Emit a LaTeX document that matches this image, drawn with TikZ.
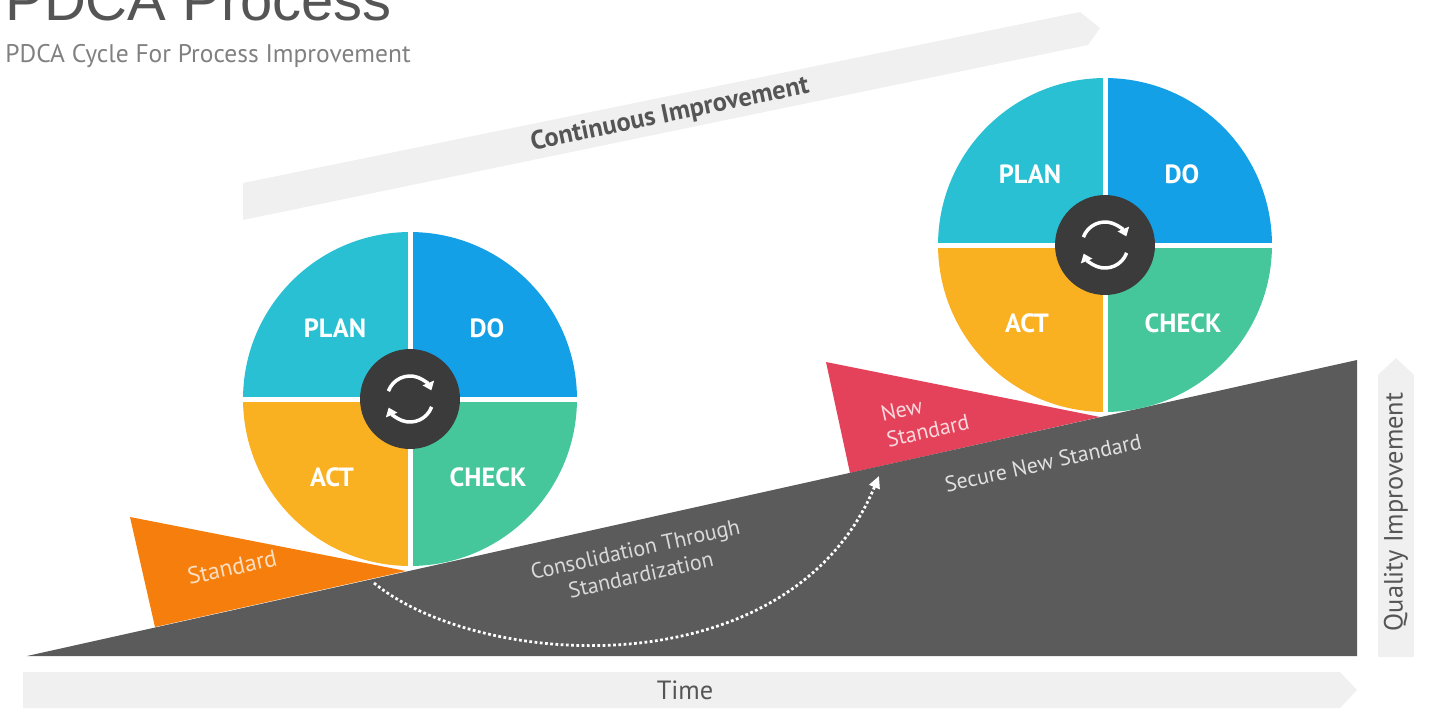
\documentclass[tikz,border=0pt]{standalone}
\usepackage{fontspec}
\setmainfont{PT Sans}
\newfontfamily\titlefont{Liberation Sans}
\usetikzlibrary{positioning,arrows.meta}

\definecolor{plancol}{HTML}{29C0D4}
\definecolor{docol}{HTML}{14A0E6}
\definecolor{actcol}{HTML}{F9B122}
\definecolor{checkcol}{HTML}{46C69B}
\definecolor{hubcol}{HTML}{3B3B3B}
\definecolor{groundcol}{HTML}{5B5B5B}
\definecolor{stdcol}{HTML}{F57E0C}
\definecolor{newcol}{HTML}{E4425A}
\definecolor{bandcol}{HTML}{F0F0F0}
\definecolor{bandtext}{HTML}{555555}

\tikzset{
  qlabel/.style={text=white, font=\bfseries\fontsize{15}{18}\selectfont},
  hub/.style={circle, fill=hubcol, minimum size=2cm, inner sep=0pt},
  cycleicon/.style={draw=white, line width=0.07cm, -{Triangle[length=0.16cm,width=0.24cm]}},
  slopetext/.style={rotate=12.5, font=\fontsize{12.5}{15}\selectfont, align=center},
  bandlabel/.style={text=bandtext, font=\fontsize{15}{18}\selectfont},
  stepdots/.style={draw=white, line width=0.055cm, dash pattern=on 0.055cm off 0.05cm, -{Triangle[length=0.24cm,width=0.22cm]}}
}

\begin{document}
\begin{tikzpicture}[x=0.02cm, y=0.02cm]
  \useasboundingbox (0,0) rectangle (1436,-711);

  % title
  \node[anchor=base west, inner sep=0pt, text=bandtext, font=\titlefont\fontsize{33}{36}\selectfont] (title) at (5,-20) {PDCA Process};
  \node[anchor=base west, inner sep=0pt, text=gray, font=\fontsize{14.5}{16}\selectfont] (subtitle) at (5,-62) {PDCA Cycle For Process Improvement};

  % grey arrows
  \fill[bandcol] (243,-183) -- (1080,-12) -- (1100,-28) -- (1088,-45) -- (243,-220) -- cycle;
  \node[bandlabel, rotate=11.7, font=\bfseries\fontsize{15}{18}\selectfont] (cont) at (670,-115) {Continuous Improvement};
  \fill[bandcol] (23,-672) -- (1340,-672) -- (1357,-690) -- (1340,-708) -- (23,-708) -- cycle;
  \node[bandlabel] (time) at (685,-690) {Time};
  \fill[bandcol] (1378,-657) -- (1378,-375) -- (1396,-358) -- (1414,-375) -- (1414,-657) -- cycle;
  \node[bandlabel, rotate=90] (quality) at (1396,-512) {Quality Improvement};

  % standards and slope
  \fill[stdcol] (130,-517) -- (155,-627) -- (406,-571) -- cycle;
  \fill[newcol] (826,-362) -- (850,-473) -- (1100,-417) -- cycle;
  \fill[groundcol] (27,-656) -- (1357,-656) -- (1357,-360) -- cycle;

  \node[slopetext, text=white!75!stdcol, font=\fontsize{13.5}{15}\selectfont] (std) at (232,-567) {Standard};
  \node[slopetext, text=white!80!newcol, align=left] (newstd) at (925,-418) {New\\Standard};
  \node[slopetext, text=white!88!black] (secure) at (1043,-463) {Secure New Standard};
  \node[slopetext, text=white!85!black] (consol) at (638,-562) {Consolidation Through\\Standardization};

  \coordinate (consS) at (374,-583);
  \coordinate (consE) at (879,-476);
  \draw[stepdots] (consS) .. controls (480,-670) and (790,-690) .. (consE);

  % wheels
  \foreach \w/\cx/\cy in {1/410/-399, 2/1105/-245} {
    \coordinate (w\w) at (\cx,\cy);
    \fill[plancol] (w\w) -- ++(-3.34cm,0) arc[start angle=180, end angle=90, radius=3.34cm] -- cycle;
    \fill[docol] (w\w) -- ++(0,3.34cm) arc[start angle=90, end angle=0, radius=3.34cm] -- cycle;
    \fill[checkcol] (w\w) -- ++(3.34cm,0) arc[start angle=0, end angle=-90, radius=3.34cm] -- cycle;
    \fill[actcol] (w\w) -- ++(0,-3.34cm) arc[start angle=-90, end angle=-180, radius=3.34cm] -- cycle;
    \draw[white, line width=0.1cm] ([xshift=-3.34cm]w\w) -- ([xshift=3.34cm]w\w);
    \draw[white, line width=0.1cm] ([yshift=-3.34cm]w\w) -- ([yshift=3.34cm]w\w);
    \node[qlabel] (plan\w) at ([shift={(-75,71)}]w\w) {PLAN};
    \node[qlabel] (do\w) at ([shift={(77,71)}]w\w) {DO};
    \node[qlabel] (act\w) at ([shift={(-78,-78)}]w\w) {ACT};
    \node[qlabel] (check\w) at ([shift={(78,-78)}]w\w) {CHECK};
    \node[hub] (hub\w) at (w\w) {};
    \draw[cycleicon] ([shift={(160:0.46cm)}]hub\w.center) arc[start angle=160, end angle=22, radius=0.46cm];
    \draw[cycleicon] ([shift={(-20:0.46cm)}]hub\w.center) arc[start angle=-20, end angle=-158, radius=0.46cm];
  }
\end{tikzpicture}
\end{document}
